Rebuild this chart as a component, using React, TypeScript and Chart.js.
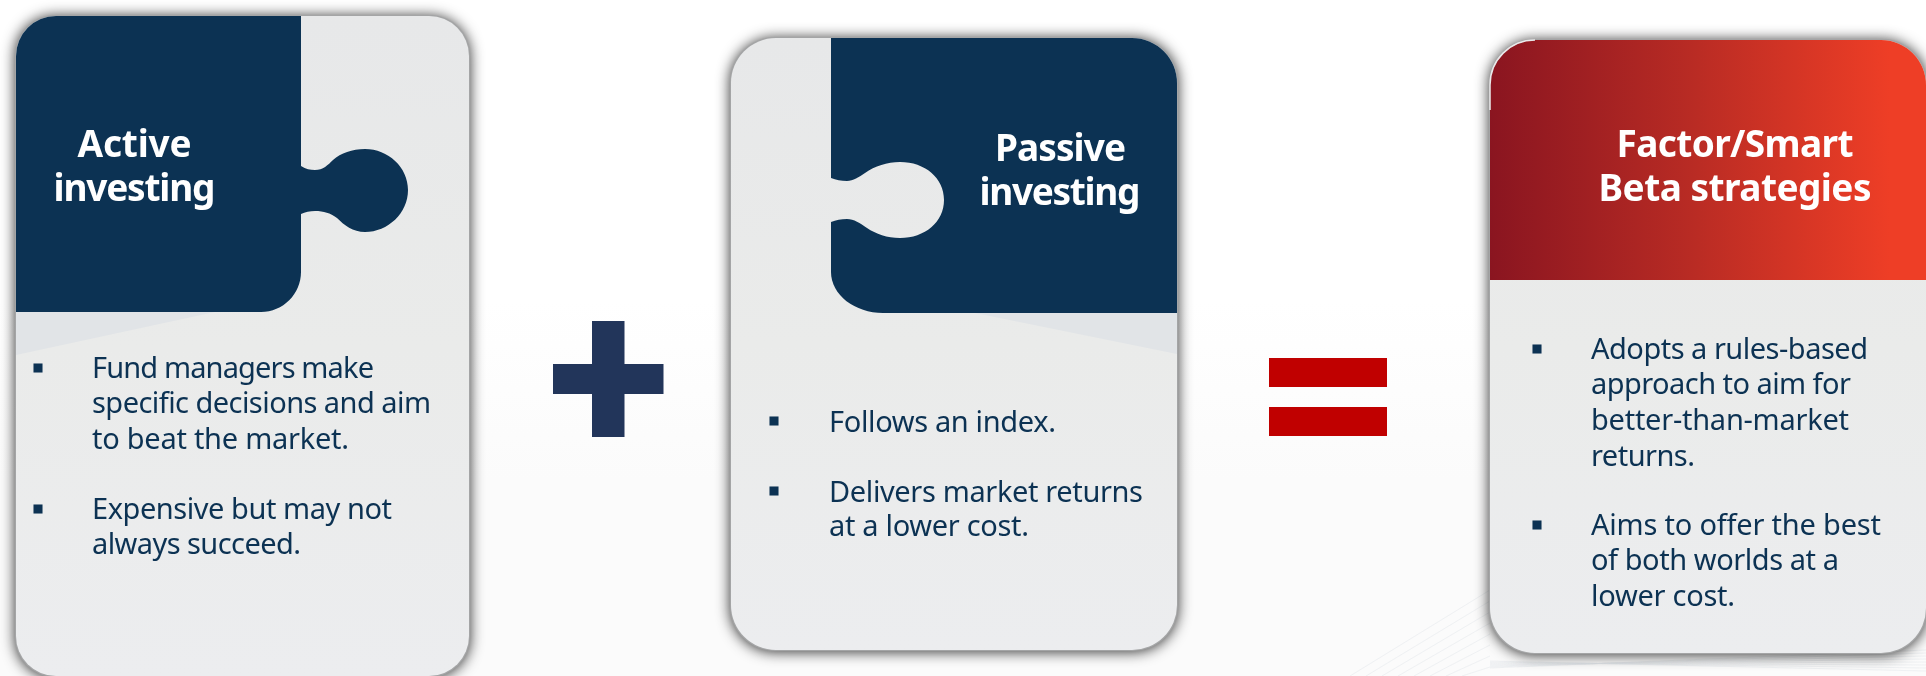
import React, { useEffect, useRef } from "react";
import { Chart, registerables } from "chart.js";

Chart.register(...registerables);

const WIDTH = 1926;
const HEIGHT = 676;
const FONT = '"Noto Sans"';

const activeTitle = ["Active", "investing"];
const activeBody = ["Fund managers make", "specific decisions and aim", "to beat the market.", "Expensive but may not", "always succeed."];
const passiveTitle = ["Passive", "investing"];
const passiveBody = ["Follows an index.", "Delivers market returns", "at a lower cost."];
const factorTitle = ["Factor/Smart", "Beta strategies"];
const factorBody = ["Adopts a rules-based", "approach to aim for", "better-than-market", "returns.", "Aims to offer the best", "of both worlds at a", "lower cost."];

const bulletX = [38, 38, 774, 774, 1537, 1537];
const bulletY = [368, 509, 421, 491, 349, 525];

type Line = [string, number, number, number];

const plugin = {
  id: "infographic",
  beforeDatasetsDraw(chart: any) {
    const c: CanvasRenderingContext2D = chart.ctx;
    const X = (v: number) => chart.scales.x.getPixelForValue(v);
    const Y = (v: number) => chart.scales.y.getPixelForValue(v);
    const M = (x: number, y: number) => c.moveTo(X(x), Y(y));
    const L = (x: number, y: number) => c.lineTo(X(x), Y(y));
    const B = (a: number, b: number, d: number, e: number, f: number, g: number) =>
      c.bezierCurveTo(X(a), Y(b), X(d), Y(e), X(f), Y(g));

    const round = (x0: number, y0: number, x1: number, y1: number, r: number) => {
      c.beginPath();
      c.roundRect(X(x0), Y(y0), X(x1) - X(x0), Y(y1) - Y(y0), r);
    };
    const panelGrad = (y0: number, y1: number) => {
      const g = c.createLinearGradient(0, Y(y0), 0, Y(y1));
      g.addColorStop(0, "#e7e8e9");
      g.addColorStop(0.5, "#eaebea");
      g.addColorStop(1, "#ecedef");
      return g;
    };
    const panel = (x0: number, y0: number, x1: number, y1: number, r: number) => {
      c.save();
      c.shadowColor = "rgba(0,0,0,0.8)";
      c.shadowBlur = 14;
      c.shadowOffsetX = 0;
      c.shadowOffsetY = 1;
      round(x0 - 1, y0 - 1, x1 + 1, y1 + 1, r);
      c.fillStyle = "#a4a5a6";
      c.fill();
      c.restore();
      round(x0, y0, x1, y1, r);
      c.fillStyle = panelGrad(y0, y1);
      c.fill();
    };
    const text = (lines: Line[], font: string, color: string, align: "left" | "center") => {
      c.save();
      c.font = font;
      c.fillStyle = color;
      c.textBaseline = "alphabetic";
      c.textAlign = "left";
      for (const [t, x, y, w] of lines) {
        (c as any).letterSpacing = "0px";
        const m = c.measureText(t).width;
        const sp = (w - m) / Math.max(1, t.length - 1);
        (c as any).letterSpacing = `${sp.toFixed(3)}px`;
        c.fillText(t, X(align === "center" ? x - w / 2 : x), Y(y));
      }
      c.restore();
    };

    // page background and its faint streaks
    const bg = c.createLinearGradient(0, Y(300), 0, Y(480));
    bg.addColorStop(0, "#ffffff");
    bg.addColorStop(1, "#fbfbfb");
    c.fillStyle = bg;
    c.fillRect(X(0), Y(0), X(WIDTH) - X(0), Y(HEIGHT) - Y(0));
    c.save();
    c.strokeStyle = "rgba(228,231,235,0.5)";
    c.lineWidth = 1;
    for (let i = 0; i < 8; i++) {
      c.beginPath();
      M(1350 + i * 16, 676);
      L(1490, 590 + i * 11);
      c.stroke();
      c.beginPath();
      M(1490, 668 - i);
      L(1926, 650 + i * 3);
      c.stroke();
    }
    c.restore();

    // plus and equals
    c.fillStyle = "#22355a";
    c.fillRect(X(592), Y(321), X(624.5) - X(592), Y(437) - Y(321));
    c.fillRect(X(553), Y(364), X(663.5) - X(553), Y(394) - Y(364));
    c.fillStyle = "#c00000";
    c.fillRect(X(1269), Y(358), X(1387) - X(1269), Y(387) - Y(358));
    c.fillRect(X(1269), Y(407), X(1387) - X(1269), Y(436) - Y(407));

    const NAVY = "#0c3253";

    // active panel
    panel(16, 16, 469, 676, 40);
    c.save();
    round(16, 16, 469, 676, 40);
    c.clip();
    c.fillStyle = "#e1e4e7";
    c.beginPath();
    M(16, 312);
    L(215, 312);
    L(16, 355);
    c.closePath();
    c.fill();
    c.fillStyle = NAVY;
    c.beginPath();
    M(16, 16);
    L(301, 16);
    L(301, 166);
    B(306, 169, 310, 170, 315, 170);
    B(323, 170, 328, 165, 333, 160);
    B(341, 153, 352, 149, 365, 149);
    B(388, 149, 408, 167, 408, 190);
    B(408, 213, 388, 232, 365, 232);
    B(353, 232, 344, 225, 337, 218);
    B(330, 213, 324, 211, 315, 211);
    B(310, 211, 305, 212, 301, 214);
    L(301, 272);
    B(301, 294, 283, 312, 261, 312);
    L(16, 312);
    c.closePath();
    c.fill();
    c.restore();

    // passive panel
    panel(731, 38, 1177, 650, 45);
    c.save();
    round(731, 38, 1177, 650, 45);
    c.clip();
    c.fillStyle = "#e1e4e7";
    c.beginPath();
    M(975, 313);
    L(1177, 313);
    L(1177, 354);
    c.closePath();
    c.fill();
    c.fillStyle = NAVY;
    c.beginPath();
    M(831, 38);
    L(1177, 38);
    L(1177, 313);
    L(883, 313);
    B(855, 313, 831, 295, 831, 272);
    c.closePath();
    c.fill();
    c.fillStyle = panelGrad(38, 650);
    c.beginPath();
    M(825, 176);
    L(831, 178);
    B(836, 180, 841, 181, 847, 181);
    B(853, 181, 859, 177, 865, 173);
    B(875, 166, 887, 162, 900, 162);
    B(925, 162, 944, 178, 944, 200);
    B(944, 222, 925, 238, 900, 238);
    B(887, 238, 876, 234, 867, 228);
    B(860, 223, 854, 219, 847, 219);
    B(841, 219, 836, 220, 831, 222);
    L(825, 224);
    c.closePath();
    c.fill();
    c.restore();

    // factor panel
    panel(1490, 40, 1926, 653, 45);
    c.save();
    round(1490, 40, 1926, 653, 45);
    c.clip();
    const red = c.createLinearGradient(X(1490), 0, X(1890), 0);
    red.addColorStop(0, "#8a1520");
    red.addColorStop(0.5, "#b82b24");
    red.addColorStop(1, "#ee3e26");
    c.fillStyle = red;
    c.fillRect(X(1490), Y(40), X(1926) - X(1490), Y(280) - Y(40));
    c.restore();
    c.save();
    c.strokeStyle = "#e9e9ea";
    c.lineWidth = 1.5;
    c.beginPath();
    M(1490, 110);
    L(1490, 85);
    B(1490, 60, 1510, 40, 1535, 40);
    c.stroke();
    c.restore();

    const titleFont = `bold 37px ${FONT}`;
    text([[activeTitle[0], 134.5, 157, 114], [activeTitle[1], 134.5, 201, 162]], titleFont, "#ffffff", "center");
    text([[passiveTitle[0], 1060.5, 161, 131], [passiveTitle[1], 1060, 205, 161]], titleFont, "#ffffff", "center");
    text([[factorTitle[0], 1735, 157, 237], [factorTitle[1], 1735, 201, 273]], titleFont, "#ffffff", "center");

    const bodyFont = `29px ${FONT}`;
    text(
      [
        [activeBody[0], 92, 378, 282],
        [activeBody[1], 92, 413, 339],
        [activeBody[2], 92, 449, 257],
        [activeBody[3], 92, 519, 300],
        [activeBody[4], 92, 554, 209],
      ],
      bodyFont, NAVY, "left"
    );
    text(
      [
        [passiveBody[0], 829, 432, 227],
        [passiveBody[1], 829, 502, 314],
        [passiveBody[2], 829, 536, 200],
      ],
      bodyFont, NAVY, "left"
    );
    text(
      [
        [factorBody[0], 1591, 359, 277],
        [factorBody[1], 1591, 394, 260],
        [factorBody[2], 1591, 430, 258],
        [factorBody[3], 1591, 466, 104],
        [factorBody[4], 1591, 535, 290],
        [factorBody[5], 1591, 570, 248],
        [factorBody[6], 1591, 606, 144],
      ],
      bodyFont, NAVY, "left"
    );
  },
};

export default function App() {
  const ref = useRef<HTMLCanvasElement>(null);
  useEffect(() => {
    const chart = new Chart(ref.current!, {
      type: "scatter",
      data: {
        datasets: [
          {
            data: bulletX.map((x, i) => ({ x, y: bulletY[i] })),
            pointStyle: "rect",
            pointRadius: 6.4,
            backgroundColor: "#0c3253",
            borderWidth: 0,
            clip: false,
          },
        ],
      },
      options: {
        animation: false,
        responsive: false,
        events: [],
        layout: { padding: 0, autoPadding: false },
        plugins: { legend: { display: false }, tooltip: { enabled: false } },
        scales: {
          x: { type: "linear", display: false, min: 0, max: WIDTH },
          y: { type: "linear", display: false, min: 0, max: HEIGHT, reverse: true },
        },
      },
      plugins: [plugin],
    } as any);
    return () => chart.destroy();
  }, []);
  return (
    <div style={{ position: "fixed", left: 0, top: 0, width: WIDTH, height: HEIGHT }}>
      <canvas ref={ref} width={WIDTH} height={HEIGHT} style={{ display: "block" }} />
    </div>
  );
}
